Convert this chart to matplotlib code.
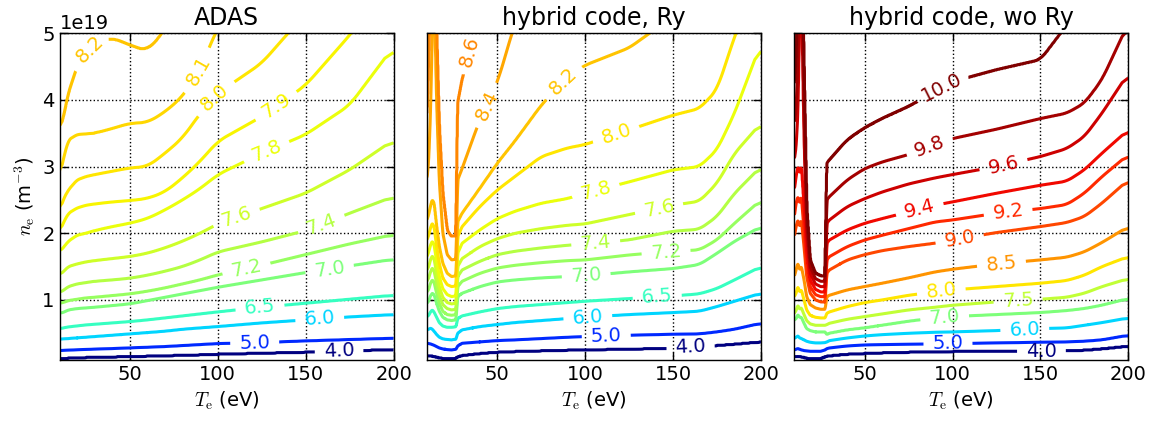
#contour maps of the line ratio, ADAS vs hybrid code with and without Ry
import numpy as np
import matplotlib
matplotlib.use('Agg')
import matplotlib.pyplot as plt

plt.rcParams['font.family'] = 'DejaVu Sans'
plt.rcParams['mathtext.fontset'] = 'cm'

# ne (1e19 m^-3) where every contour level crosses a given Te column

# ADAS
te_adas = [10, 12, 15, 20, 25, 30, 40, 50, 60, 70, 80, 90, 100, 125, 150, 175, 200]
lev_adas = [4.0, 5.0, 6.0, 6.5, 7.0, 7.2, 7.4, 7.6, 7.8, 7.9, 8.0, 8.1, 8.2]
ne_adas = [
    [0.125, 0.127, 0.13, 0.135, 0.14, 0.143, 0.148, 0.155, 0.16, 0.167, 0.173, 0.18, 0.19, 0.205, 0.22, 0.24, 0.26],
    [0.24, 0.243, 0.247, 0.252, 0.257, 0.262, 0.27, 0.28, 0.29, 0.3, 0.315, 0.33, 0.345, 0.36, 0.385, 0.405, 0.425],
    [0.41, 0.415, 0.42, 0.43, 0.44, 0.45, 0.47, 0.49, 0.51, 0.53, 0.56, 0.58, 0.6, 0.655, 0.7, 0.745, 0.78],
    [0.565, 0.58, 0.595, 0.61, 0.625, 0.635, 0.655, 0.675, 0.7, 0.73, 0.76, 0.79, 0.82, 0.89, 0.95, 1.01, 1.07],
    [0.8, 0.81, 0.85, 0.87, 0.88, 0.89, 0.915, 0.94, 0.99, 1.04, 1.09, 1.14, 1.19, 1.3, 1.41, 1.51, 1.61],
    [0.95, 0.96, 0.99, 1.01, 1.03, 1.04, 1.065, 1.09, 1.13, 1.18, 1.24, 1.3, 1.375, 1.52, 1.68, 1.84, 1.98],
    [1.11, 1.14, 1.2, 1.24, 1.26, 1.28, 1.3, 1.325, 1.37, 1.43, 1.5, 1.6, 1.72, 1.87, 2.04, 2.3, 2.55],
    [1.375, 1.42, 1.5, 1.54, 1.57, 1.59, 1.62, 1.65, 1.7, 1.78, 1.88, 2.0, 2.14, 2.37, 2.6, 2.95, 3.4],
    [1.72, 1.78, 1.88, 1.97, 2.0, 2.04, 2.1, 2.15, 2.22, 2.35, 2.5, 2.67, 2.88, 3.2, 3.48, 3.92, 4.8],
    [2.02, 2.15, 2.3, 2.38, 2.42, 2.44, 2.47, 2.49, 2.52, 2.62, 2.83, 3.08, 3.38, 3.75, 4.22, 4.97, 5.8],
    [2.33, 2.5, 2.65, 2.8, 2.85, 2.88, 2.93, 2.98, 3.0, 3.2, 3.43, 3.8, 4.1, 4.55, 5.3, 6.0, 6.6],
    [2.85, 3.1, 3.4, 3.48, 3.49, 3.5, 3.57, 3.65, 3.66, 3.82, 4.05, 4.45, 5.1, 6.0, 6.6, 7.2, 7.8],
    [3.56, 3.7, 4.1, 4.5, 4.68, 4.86, 4.93, 4.82, 4.73, 5.05, 5.6, 6.1, 6.6, 7.3, 7.8, 8.4, 9.0],
]
lab_adas = [169, 121, 158, 124, 163.6, 116.3, 159, 110.6, 127.7, 133.3, 98.3, 89, 27]

# hybrid code, Ry
te_ry = [10, 11, 12, 13, 14, 15.5, 17, 19, 21.5, 24, 26.5, 27.5, 30, 40, 50, 60, 75, 90, 100, 125, 150, 165, 175, 185, 200]
lev_ry = [4.0, 5.0, 6.0, 6.5, 7.0, 7.2, 7.4, 7.6, 7.8, 8.0, 8.2, 8.4, 8.6]
ne_ry = [
    [0.17, 0.168, 0.165, 0.16, 0.155, 0.145, 0.135, 0.128, 0.125, 0.125, 0.13, 0.15, 0.17, 0.2, 0.22, 0.23, 0.24, 0.25, 0.255, 0.265, 0.28, 0.3, 0.32, 0.34, 0.375],
    [0.35, 0.345, 0.34, 0.33, 0.32, 0.3, 0.28, 0.265, 0.255, 0.25, 0.26, 0.31, 0.35, 0.37, 0.39, 0.4, 0.42, 0.44, 0.45, 0.47, 0.485, 0.49, 0.52, 0.56, 0.65],
    [0.55, 0.56, 0.575, 0.56, 0.53, 0.48, 0.44, 0.415, 0.405, 0.4, 0.41, 0.5, 0.55, 0.6, 0.63, 0.66, 0.69, 0.72, 0.74, 0.78, 0.81, 0.83, 0.9, 0.98, 1.1],
    [0.75, 0.77, 0.82, 0.85, 0.82, 0.74, 0.66, 0.61, 0.59, 0.59, 0.6, 0.72, 0.76, 0.82, 0.87, 0.9, 0.93, 0.96, 0.98, 1.02, 1.06, 1.09, 1.17, 1.3, 1.5],
    [0.95, 0.98, 1.06, 1.1, 1.08, 0.95, 0.83, 0.74, 0.7, 0.69, 0.7, 1.05, 1.1, 1.2, 1.27, 1.3, 1.33, 1.35, 1.36, 1.42, 1.47, 1.53, 1.7, 1.88, 2.1],
    [1.12, 1.16, 1.25, 1.3, 1.27, 1.1, 0.95, 0.83, 0.78, 0.77, 0.78, 1.2, 1.28, 1.4, 1.48, 1.52, 1.56, 1.59, 1.6, 1.675, 1.73, 1.75, 1.9, 2.15, 2.5],
    [1.28, 1.33, 1.42, 1.48, 1.44, 1.25, 1.07, 0.93, 0.87, 0.85, 0.86, 1.35, 1.45, 1.58, 1.68, 1.73, 1.78, 1.82, 1.84, 1.9, 2.03, 2.06, 2.25, 2.6, 3.0],
    [1.45, 1.5, 1.6, 1.66, 1.62, 1.4, 1.2, 1.04, 0.96, 0.94, 0.95, 1.5, 1.62, 1.8, 1.92, 2.0, 2.07, 2.12, 2.14, 2.28, 2.42, 2.48, 2.75, 3.2, 3.65],
    [1.65, 1.72, 1.82, 1.88, 1.83, 1.58, 1.35, 1.17, 1.08, 1.05, 1.06, 1.7, 1.85, 2.05, 2.22, 2.33, 2.45, 2.52, 2.6, 2.77, 2.95, 3.0, 3.25, 3.8, 4.85],
    [1.9, 1.97, 2.08, 2.15, 2.1, 1.8, 1.55, 1.33, 1.23, 1.2, 1.21, 1.95, 2.1, 2.4, 2.65, 2.85, 3.15, 3.28, 3.33, 3.55, 3.77, 3.87, 4.15, 4.95, 6.0],
    [2.2, 2.28, 2.4, 2.5, 2.45, 2.1, 1.8, 1.55, 1.4, 1.35, 1.36, 2.17, 2.3, 2.67, 3.05, 3.38, 3.92, 4.35, 4.52, 4.78, 5.25, 5.6, 5.9, 6.2, 6.6],
    [2.8, 3.1, 3.8, 5.0, 5.9, 4.0, 2.8, 2.0, 1.68, 1.6, 1.61, 2.8, 2.97, 3.7, 4.25, 5.15, 6.0, 6.5, 7.0, 7.5, 8.0, 8.3, 8.5, 8.7, 9.0],
    [3.7, 4.5, 5.5, 6.3, 6.6, 5.0, 3.6, 2.6, 2.05, 1.95, 1.96, 3.95, 4.3, 5.3, 6.2, 6.6, 7.0, 7.5, 8.0, 8.5, 9.0, 9.3, 9.5, 9.7, 10.0],
]
lab_ry = [160, 112, 101.5, 141, 100.6, 146, 106, 142, 106, 117.6, 87.3, 44, 34.3]

# hybrid code, wo Ry
te_wo = [10, 11, 12, 13, 14, 15.5, 17, 19, 22, 25, 27.5, 28.5, 30, 40, 50, 60, 75, 90, 100, 125, 150, 165, 175, 185, 200]
lev_wo = [4.0, 5.0, 6.0, 7.0, 7.5, 8.0, 8.5, 9.0, 9.2, 9.4, 9.6, 9.8, 10.0]
ne_wo = [
    [0.15, 0.155, 0.16, 0.155, 0.15, 0.14, 0.13, 0.125, 0.125, 0.125, 0.15, 0.16, 0.165, 0.19, 0.2, 0.21, 0.22, 0.225, 0.23, 0.235, 0.237, 0.24, 0.25, 0.27, 0.31],
    [0.25, 0.26, 0.27, 0.26, 0.25, 0.24, 0.235, 0.23, 0.23, 0.23, 0.25, 0.27, 0.28, 0.31, 0.325, 0.33, 0.335, 0.34, 0.345, 0.355, 0.365, 0.37, 0.38, 0.4, 0.47],
    [0.425, 0.44, 0.46, 0.43, 0.42, 0.4, 0.38, 0.365, 0.355, 0.355, 0.36, 0.37, 0.39, 0.43, 0.46, 0.48, 0.5, 0.515, 0.52, 0.54, 0.57, 0.58, 0.62, 0.66, 0.73],
    [0.7, 0.72, 0.78, 0.74, 0.74, 0.65, 0.57, 0.54, 0.52, 0.52, 0.52, 0.48, 0.5, 0.55, 0.58, 0.62, 0.68, 0.73, 0.75, 0.78, 0.81, 0.84, 0.87, 0.92, 1.02],
    [0.8, 0.84, 0.92, 0.86, 0.88, 0.78, 0.69, 0.64, 0.62, 0.62, 0.62, 0.63, 0.65, 0.71, 0.75, 0.79, 0.85, 0.89, 0.92, 0.97, 1.01, 1.04, 1.1, 1.2, 1.32],
    [1.05, 1.1, 1.2, 1.12, 1.15, 1.0, 0.85, 0.77, 0.74, 0.73, 0.73, 0.8, 0.82, 0.9, 0.96, 1.0, 1.07, 1.12, 1.15, 1.2, 1.25, 1.29, 1.37, 1.5, 1.65],
    [1.35, 1.45, 1.55, 1.45, 1.5, 1.3, 1.05, 0.93, 0.88, 0.86, 0.86, 1.05, 1.07, 1.15, 1.2, 1.25, 1.33, 1.42, 1.46, 1.54, 1.6, 1.64, 1.72, 1.86, 2.1],
    [1.95, 2.1, 2.2, 2.1, 2.2, 1.8, 1.35, 1.1, 1.0, 0.97, 0.97, 1.4, 1.45, 1.6, 1.68, 1.74, 1.8, 1.85, 1.9, 2.01, 2.1, 2.16, 2.25, 2.45, 2.8],
    [2.25, 2.45, 2.55, 2.45, 2.55, 2.05, 1.5, 1.2, 1.08, 1.05, 1.05, 1.6, 1.65, 1.8, 1.9, 1.97, 2.07, 2.17, 2.2, 2.3, 2.37, 2.43, 2.6, 2.85, 3.18],
    [2.65, 2.85, 3.0, 2.9, 3.0, 2.4, 1.7, 1.3, 1.16, 1.12, 1.12, 1.85, 1.9, 2.05, 2.15, 2.22, 2.32, 2.42, 2.47, 2.6, 2.72, 2.78, 2.95, 3.2, 3.55],
    [3.1, 3.3, 3.8, 5.3, 5.8, 3.5, 2.0, 1.4, 1.24, 1.2, 1.2, 2.15, 2.2, 2.4, 2.52, 2.62, 2.74, 2.83, 2.88, 3.0, 3.15, 3.27, 3.45, 3.8, 4.4],
    [3.65, 3.85, 4.6, 6.0, 6.3, 4.0, 2.2, 1.5, 1.32, 1.28, 1.28, 2.5, 2.55, 2.8, 2.97, 3.07, 3.18, 3.33, 3.42, 3.56, 3.72, 3.8, 3.95, 4.3, 5.15],
    [4.2, 4.6, 5.5, 6.5, 6.8, 4.5, 2.4, 1.6, 1.4, 1.36, 1.36, 3.05, 3.1, 3.4, 3.58, 3.72, 3.9, 4.12, 4.27, 4.45, 4.6, 5.12, 5.6, 6.0, 6.5],
]
lab_wo = [150.6, 97.4, 141.1, 95.5, 137.3, 93.6, 127.8, 104, 131.6, 81.3, 129, 87, 94]

titles = ['ADAS', 'hybrid code, Ry', 'hybrid code, wo Ry']
# smoothing window (eV) below / above a Te switch point, so the spikes stay sharp
smooth = [(3.0, 10.0, 30.0), (0.8, 7.0, 35.0), (0.8, 7.0, 36.0)]


def level_rows(te_cols, ne_rows, te_f, w_lo, w_hi, te_sw):
    rows = np.array([np.interp(te_f, te_cols, r) for r in ne_rows])
    step = te_f[1] - te_f[0]
    half = (np.where(te_f < te_sw, w_lo, w_hi) / 2 / step).astype(int)
    c = np.concatenate([np.zeros((len(rows), 1)), np.cumsum(rows, axis=1)], axis=1)
    idx = np.arange(len(te_f))
    lo = np.clip(idx - half, 0, len(te_f) - 1)
    hi = np.clip(idx + half, 0, len(te_f) - 1)
    return (c[:, hi + 1] - c[:, lo]) / (hi - lo + 1)


def field(rows, levels, ne_f):
    zp = np.concatenate([[levels[0] - 1], levels, [levels[-1] + 1]])
    z = np.empty((len(ne_f), rows.shape[1]))
    for j in range(rows.shape[1]):
        xp = np.concatenate([[-10.0], rows[:, j], [100.0]])
        z[:, j] = np.interp(ne_f, xp, zp)
    return z


te_f = np.linspace(10, 200, 761)
ne_f = np.linspace(0.05, 5.3, 526)
norm = plt.Normalize(4, 10)

fig, axes = plt.subplots(1, 3, figsize=(11.55, 4.21), dpi=100, sharey=True)
fig.subplots_adjust(left=0.0516, right=0.9769, bottom=0.145, top=0.921, wspace=0.1)

panels = [(te_adas, lev_adas, ne_adas, lab_adas),
          (te_ry, lev_ry, ne_ry, lab_ry),
          (te_wo, lev_wo, ne_wo, lab_wo)]

for ax, (te_c, lev, ne_r, lab), title, sm in zip(axes, panels, titles, smooth):
    rows = level_rows(te_c, ne_r, te_f, *sm)
    z = field(rows, lev, ne_f)
    cs = ax.contour(te_f, ne_f * 1e19, z, levels=lev, cmap='jet', norm=norm,
                    linewidths=2.2)
    pos = [(t, np.interp(t, te_f, r) * 1e19) for t, r in zip(lab, rows)]
    txt = ax.clabel(cs, fmt='%1.1f', fontsize=14, inline=True,
                    inline_spacing=9, manual=pos)
    for t in txt:
        t.set_clip_on(True)

    ax.set_xlim(10, 200)
    ax.set_ylim(0.1e19, 5e19)
    ax.set_xticks([50, 100, 150, 200])
    ax.set_yticks([1e19, 2e19, 3e19, 4e19, 5e19])
    ax.grid(True, color='k', linestyle=':', linewidth=1)
    ax.tick_params(direction='in', top=True, right=True, length=6, width=1,
                   labelsize=14)
    ax.set_title(title, fontsize=17)
    ax.set_xlabel(r'$T_\mathrm{e}$ (eV)', fontsize=14)
    for s in ax.spines.values():
        s.set_linewidth(1)

axes[0].set_ylabel(r'$n_\mathrm{e}$ (m$^{-3}$)', fontsize=14)
axes[0].yaxis.get_offset_text().set_fontsize(14)

fig.savefig('out.png', dpi=100)
